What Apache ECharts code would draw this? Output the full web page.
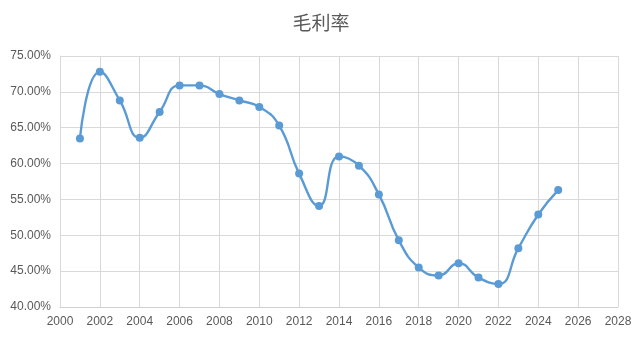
<!DOCTYPE html>
<html><head><meta charset="utf-8">
<script src="https://cdn.jsdelivr.net/npm/echarts@6/dist/echarts.min.js"></script>
<style>html,body{margin:0;padding:0;background:#fff}#c{width:642px;height:338px}</style>
</head><body><div id="c"></div>
<script>
const title = '毛利率';
const years = [2001,2002,2003,2004,2005,2006,2007,2008,2009,2010,2011,2012,2013,2014,2015,2016,2017,2018,2019,2020,2021,2022,2023,2024,2025];
const margins = [63.5,72.8,68.8,63.6,67.2,70.9,70.9,69.7,68.8,67.9,65.3,58.6,54.1,61.0,59.7,55.7,49.3,45.5,44.4,46.1,44.1,43.2,48.2,52.9,56.3];
const xMin = 2000, xMax = 2028, xStep = 2;
const yMin = 40, yMax = 75, yStep = 5;

const chart = echarts.init(document.getElementById('c'));
chart.setOption({
  animation: false,
  backgroundColor: '#fff',
  title: { text: title, left: 'center', top: 8, textStyle: { color: '#595959', fontSize: 19, fontWeight: 'normal', fontFamily: '"Noto Sans CJK SC", sans-serif' } },
  grid: { left: 60, right: 24, top: 56, bottom: 31, containLabel: false },
  xAxis: {
    type: 'value', min: xMin, max: xMax, interval: xStep,
    axisLine: { show: true, lineStyle: { color: '#d0d0d0' } },
    axisTick: { show: false },
    splitLine: { show: true, lineStyle: { color: '#d9d9d9' } },
    axisLabel: { color: '#595959', fontSize: 12, margin: 9, formatter: v => String(v), fontFamily: '"Liberation Sans", sans-serif' }
  },
  yAxis: {
    type: 'value', min: yMin, max: yMax, interval: yStep,
    axisLine: { show: true, lineStyle: { color: '#d9d9d9' } },
    axisTick: { show: false },
    splitLine: { show: true, lineStyle: { color: '#d9d9d9' } },
    axisLabel: { color: '#595959', fontSize: 12, margin: 9, formatter: v => v.toFixed(2) + '%', fontFamily: '"Liberation Sans", sans-serif' }
  },
  series: [{
    type: 'line',
    data: years.map((y, i) => [y, margins[i]]),
    smooth: 0.5,
    symbol: 'circle', symbolSize: 8,
    lineStyle: { color: '#5b9bd5', width: 2.4 },
    itemStyle: { color: '#5b9bd5' }
  }]
});
</script></body></html>
